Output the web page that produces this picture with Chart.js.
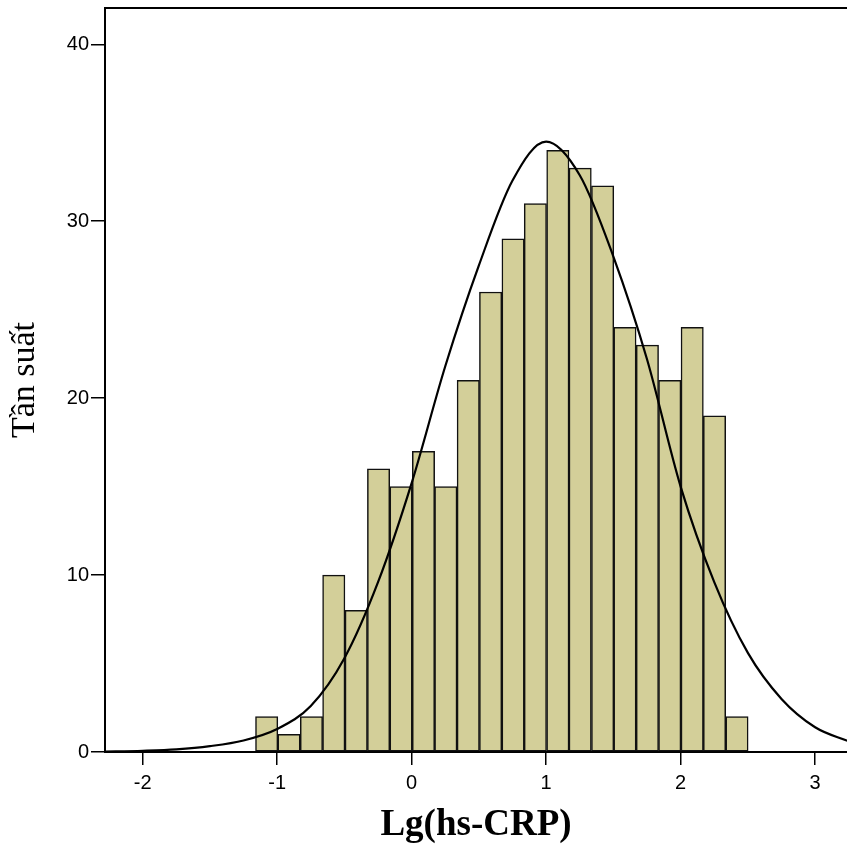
<!DOCTYPE html>
<html>
<head>
<meta charset="utf-8">
<script src="https://cdn.jsdelivr.net/npm/chart.js@4.4.1/dist/chart.umd.min.js"></script>
<style>
  html, body { margin: 0; padding: 0; background: #fff; overflow: hidden; }
  #wrap { width: 847px; height: 850px; }
</style>
</head>
<body>
<div id="wrap"><canvas id="histChart" width="847" height="850"></canvas></div>
<script>
// histogram bins (centres of each bar, Lg(hs-CRP)) and counts
const binCenters = [-1.078, -0.912, -0.745, -0.579, -0.412, -0.246, -0.079, 0.088, 0.254, 0.421, 0.587,
                    0.754, 0.920, 1.087, 1.253, 1.420, 1.586, 1.753, 1.919, 2.086, 2.252, 2.419];
const counts = [2, 1, 2, 10, 8, 16, 15, 17, 15, 21, 26, 29, 31, 34, 33, 32, 24, 23, 21, 24, 19, 2];

// normal curve
const curveX = [-2.3, -2, -1.75, -1.5, -1.25, -1, -0.75, -0.5, -0.25, 0, 0.25, 0.5, 0.75,
                1, 1.25, 1.5, 1.75, 2, 2.25, 2.5, 2.75, 3, 3.25];
const curveY = [0.02, 0.07, 0.15, 0.33, 0.65, 1.3, 2.6, 5.3, 9.6, 15.2, 21.8, 27.5, 32.3,
                34.5, 32.6, 28.0, 22.2, 15.0, 9.6, 5.6, 3.0, 1.4, 0.6];

const xTicks = [-2, -1, 0, 1, 2, 3];
const yTicks = [0, 10, 20, 30, 40];

const xTitle = 'Lg(hs-CRP)';
const yTitle = 'Tần suất';

const barData = binCenters.map((c, i) => ({x: c, y: counts[i]}));
const curveData = curveX.map((x, i) => ({x: x, y: curveY[i]}));

// top frame line
const frameTop = {
  id: 'frameTop',
  afterDraw(chart) {
    const {ctx, chartArea} = chart;
    ctx.save();
    ctx.strokeStyle = '#000';
    ctx.lineWidth = 2;
    ctx.beginPath();
    ctx.moveTo(chartArea.left - 1, chartArea.top);
    ctx.lineTo(chartArea.right + 2, chartArea.top);
    ctx.stroke();
    ctx.restore();
  }
};

const ctx = document.getElementById('histChart').getContext('2d');
new Chart(ctx, {
  type: 'bar',
  data: {
    datasets: [{
      type: 'line',
      data: curveData,
      borderColor: '#000',
      borderWidth: 2.2,
      pointRadius: 0,
      cubicInterpolationMode: 'monotone',
      fill: false,
      order: 0
    }, {
      type: 'bar',
      data: barData,
      backgroundColor: '#d3cf99',
      borderColor: '#111',
      borderWidth: 1.5,
      borderSkipped: false,
      barPercentage: 1,
      categoryPercentage: 1,
      order: 1
    }]
  },
  options: {
    responsive: false,
    animation: false,
    layout: { padding: { top: 8, right: 0, left: 0, bottom: 0 } },
    plugins: {
      legend: { display: false },
      tooltip: { enabled: false }
    },
    scales: {
      x: {
        type: 'linear',
        offset: false,
        min: -2.28,
        max: 3.237,
        afterBuildTicks: (scale) => { scale.ticks = xTicks.map(v => ({value: v})); },
        afterFit: (scale) => { scale.height = 98; scale.paddingLeft = 0; scale.paddingRight = 0; },
        grid: { offset: false, drawOnChartArea: false, drawTicks: true, tickLength: 13, color: '#000', lineWidth: 1.5 },
        border: { display: true, color: '#000', width: 2 },
        ticks: {
          color: '#000',
          padding: 6,
          maxRotation: 0,
          font: { family: '"Liberation Sans", Arial, sans-serif', size: 20, lineHeight: 1.2 }
        },
        title: {
          display: true,
          text: xTitle,
          color: '#000',
          padding: { top: 0, bottom: 2 },
          font: { family: '"Liberation Serif", "Times New Roman", serif', size: 37, weight: 'bold', lineHeight: 1.2 }
        }
      },
      y: {
        min: 0,
        max: 42.05,
        afterBuildTicks: (scale) => { scale.ticks = yTicks.map(v => ({value: v})); },
        afterFit: (scale) => { scale.width = 105; scale.paddingTop = 0; scale.paddingBottom = 0; },
        grid: { drawOnChartArea: false, drawTicks: true, tickLength: 14, color: '#000', lineWidth: 1.5 },
        border: { display: true, color: '#000', width: 2 },
        ticks: {
          color: '#000',
          padding: 2,
          font: { family: '"Liberation Sans", Arial, sans-serif', size: 20, lineHeight: 1.2 }
        },
        title: {
          display: true,
          text: yTitle,
          color: '#000',
          padding: { top: 5, bottom: 0 },
          font: { family: '"Liberation Serif", "Times New Roman", serif', size: 34, lineHeight: 1.2 }
        }
      }
    }
  },
  plugins: [frameTop]
});
</script>
</body>
</html>
